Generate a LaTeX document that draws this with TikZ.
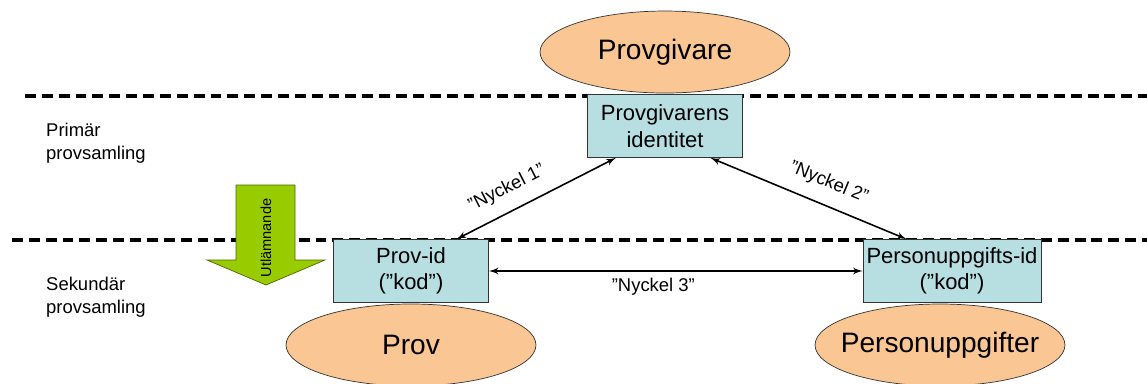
\documentclass[tikz,border=0pt]{standalone}
\usepackage{fontspec}
\setmainfont{Liberation Sans}
\usetikzlibrary{shapes,arrows}
\definecolor{idblue}{RGB}{183,222,225}
\definecolor{partyorange}{RGB}{250,199,148}
\definecolor{handgreen}{RGB}{153,204,0}
\tikzstyle{idbox} = [rectangle, draw=black!80, fill=idblue, minimum width=3.1cm, minimum height=1.26cm, align=center, inner xsep=2pt, font=\fontsize{12.5}{15}\selectfont]
\tikzstyle{party} = [ellipse, draw=black!80, fill=partyorange, minimum width=5cm, minimum height=1.64cm, font=\fontsize{16}{19}\selectfont]
\tikzstyle{line} = [draw, line width=0.9pt, latex'-latex']
\tikzstyle{key} = [font=\fontsize{10.5}{12}\selectfont]
\tikzstyle{level} = [align=left, anchor=west, font=\fontsize{10.5}{13}\selectfont]
\tikzstyle{border} = [line width=2pt, dash pattern=on 6.2pt off 3.4pt]

\begin{document}
\begin{tikzpicture}[x=0.02cm, y=-0.02cm, node distance=1.48cm]
    \useasboundingbox (0,0) rectangle (1147,383);
    % nivaer
    \draw [border] (25,96) -- (1147,96);
    \draw [border] (12,240) -- (1147,240);
    \node [level] (primary) at (40,143) {Primär\\provsamling};
    \node [level] (secondary) at (40,297) {Sekundär\\provsamling};
    % utlamnande
    \filldraw [fill=handgreen, draw=black!50!handgreen, line width=0.4pt] (236,185) -- (295,185) -- (295,260) -- (325,260) -- (266,285) -- (207,260) -- (236,260) -- cycle;
    \node [rotate=90, font=\fontsize{8.3}{10}\selectfont] (handover) at (266,238) {Utlämnande};
    % noder
    \node [idbox] (identity) at (665,126) {Provgivarens\\identitet};
    \node [party, above of=identity] (donor) {Provgivare};
    \node [idbox] (sampleid) at (411,271) {Prov-id\\(”kod”)};
    \node [party, below of=sampleid] (sample) {Prov};
    \node [idbox] (personid) at (952,271) {Personuppgifts-id\\(”kod”)};
    \node [party] (persondata) at (940,345) {\makebox[0pt]{Personuppgifter}};
    % nycklar
    \path [line] (sampleid.35) -- node [key, sloped, above=4pt, pos=0.38] (key1) {”Nyckel 1”} (identity.213);
    \path [line] (identity.325) -- node [key, sloped, above=4pt, pos=0.56] (key2) {”Nyckel 2”} (personid.145);
    \path [line] (sampleid.east) -- node [key, below, pos=0.44] (key3) {”Nyckel 3”} (personid.west);
\end{tikzpicture}
\end{document}
